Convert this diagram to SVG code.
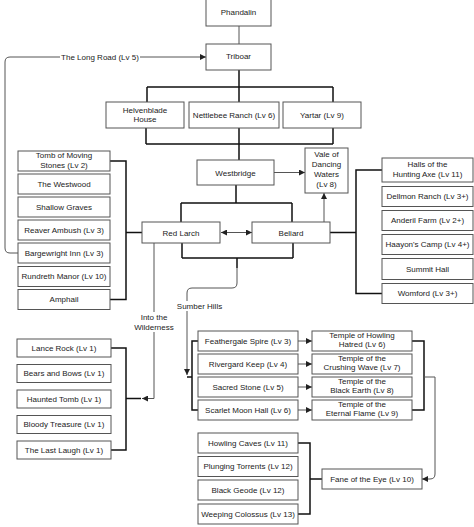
<svg xmlns="http://www.w3.org/2000/svg" width="474" height="527" viewBox="0 0 474 527">
<style>
.n rect{fill:#fff;stroke:#555;stroke-width:1}
.n text,.lbl{font-family:"Liberation Sans",Arial,sans-serif;font-size:8px;fill:#222;text-anchor:middle}
.bus{fill:none;stroke:#111;stroke-width:1.5}
.thin{fill:none;stroke:#555;stroke-width:1}
.arr{marker-end:url(#ah)}
</style>
<defs>
<marker id="ah" markerUnits="userSpaceOnUse" markerWidth="7" markerHeight="6" refX="6" refY="3" orient="auto">
<path d="M0,0 L6,3 L0,6 Z" fill="#222"/>
</marker>
<marker id="as" markerUnits="userSpaceOnUse" markerWidth="7" markerHeight="6" refX="0" refY="3" orient="auto">
<path d="M6,0 L0,3 L6,6 Z" fill="#222"/>
</marker>
</defs>
<rect width="474" height="527" fill="#fff"/>

<g id="connectors">
<line class="thin" x1="239" y1="26" x2="239" y2="44"/>
<path class="bus" d="M239,70 V87 M147,87 H333 M147,87 V102 M239,87 V102 M333,87 V102"/>
<path class="bus" d="M146,128 V144 M333,128 V144 M239,128 V160 M146,144 H333"/>
<path class="bus" d="M236,185 V203 M181,203 H292 M181,203 V222 M292,203 V222"/>
<path class="bus" d="M182,243 V258 M293,243 V258 M182,258 H293 M237,258 V268"/>
<path class="thin arr" d="M237,268 V283 Q237,288 232,288 H192 Q187,288 187,293 V375"/>
<path class="bus" d="M198,341 H192 V410 H198 M187,377 H192"/>
<path class="bus" d="M412,341 H424 V410 H412"/>
<path class="thin arr" d="M424,377 H435 V474 Q435,479 430,479 H422"/>
<path class="bus" d="M110,161 H126 V299.5 H110 M126,232.5 H142"/>
<path class="bus" d="M382,170 H356 V293.5 H382 M330,232.5 H356"/>
<path class="bus" d="M111,348 H126 V450 H111 M126,398.5 H141"/>
<path class="thin arr" d="M154,243 V398.5 H142"/>
<path class="bus" d="M298,443 H310 V514 H298 M310,479 H322"/>
<line class="thin arr" x1="298" y1="341" x2="312" y2="341"/>
<line class="thin arr" x1="298" y1="364" x2="312" y2="364"/>
<line class="thin arr" x1="298" y1="387" x2="312" y2="387"/>
<line class="thin arr" x1="298" y1="410" x2="312" y2="410"/>
<line class="thin arr" x1="274" y1="172.5" x2="305" y2="172.5"/>
<line class="thin arr" x1="324" y1="222" x2="324" y2="193"/>
<line class="thin arr" x1="221" y1="232.5" x2="252" y2="232.5" style="marker-start:url(#as)"/>
<path class="thin arr" d="M18,253 H10 Q5,253 5,248 V62 Q5,57 10,57 H206"/>
<rect x="60" y="52" width="80" height="10" fill="#fff"/>
<text class="lbl" x="100" y="60">The Long Road (Lv 5)</text>
<rect x="176" y="301" width="47" height="10" fill="#fff"/>
<text class="lbl" x="199.5" y="309">Sumber Hills</text>
<rect x="134" y="312" width="40" height="20" fill="#fff"/>
<text class="lbl" x="154" y="320">Into the</text>
<text class="lbl" x="154" y="330">Wilderness</text>
</g>

<g id="phandalin" class="n"><rect x="206" y="-1" width="65" height="27"/><text x="238.5" y="15">Phandalin</text></g>
<g id="triboar" class="n"><rect x="206" y="44" width="65" height="26"/><text x="238.5" y="59">Triboar</text></g>
<g id="helvenblade" class="n"><rect x="106" y="102" width="78" height="26"/><text x="145" y="113">Helvenblade</text><text x="145" y="122">House</text></g>
<g id="nettlebee" class="n"><rect x="189" y="102" width="90" height="26"/><text x="234" y="117.5">Nettlebee Ranch (Lv 6)</text></g>
<g id="yartar" class="n"><rect x="283" y="102" width="78" height="26"/><text x="322" y="117.5">Yartar (Lv 9)</text></g>
<g id="westbridge" class="n"><rect x="197" y="160" width="77" height="25"/><text x="235.5" y="175.5">Westbridge</text></g>
<g id="vale" class="n"><rect x="305" y="148" width="43" height="45"/><text x="326.5" y="157">Vale of</text><text x="326.5" y="167">Dancing</text><text x="326.5" y="177">Waters</text><text x="326.5" y="187">(Lv 8)</text></g>
<g id="redlarch" class="n"><rect x="142" y="222" width="78" height="21"/><text x="181" y="235.5">Red Larch</text></g>
<g id="beliard" class="n"><rect x="252" y="222" width="78" height="21"/><text x="291" y="235.5">Beliard</text></g>

<g id="tomb" class="n"><rect x="18" y="151" width="92" height="20"/><text x="64" y="158">Tomb of Moving</text><text x="64" y="167.5">Stones (Lv 2)</text></g>
<g id="westwood" class="n"><rect x="18" y="174" width="92" height="20"/><text x="64" y="186.5">The Westwood</text></g>
<g id="shallow" class="n"><rect x="18" y="197" width="92" height="20"/><text x="64" y="209.5">Shallow Graves</text></g>
<g id="reaver" class="n"><rect x="18" y="220" width="92" height="20"/><text x="64" y="232.5">Reaver Ambush (Lv 3)</text></g>
<g id="bargewright" class="n"><rect x="18" y="243" width="92" height="20"/><text x="64" y="255.5">Bargewright Inn (Lv 3)</text></g>
<g id="rundreth" class="n"><rect x="18" y="266.5" width="92" height="20"/><text x="64" y="279">Rundreth Manor (Lv 10)</text></g>
<g id="amphail" class="n"><rect x="18" y="289.5" width="92" height="20"/><text x="64" y="302">Amphail</text></g>

<g id="halls" class="n"><rect x="382" y="158" width="91" height="24"/><text x="427.5" y="167">Halls of the</text><text x="427.5" y="177">Hunting Axe (Lv 11)</text></g>
<g id="dellmon" class="n"><rect x="382" y="186.5" width="91" height="20"/><text x="427.5" y="199">Dellmon Ranch (Lv 3+)</text></g>
<g id="anderil" class="n"><rect x="382" y="210.5" width="91" height="20"/><text x="427.5" y="223">Anderil Farm (Lv 2+)</text></g>
<g id="haayon" class="n"><rect x="382" y="234.5" width="91" height="20"/><text x="427.5" y="247">Haayon's Camp (Lv 4+)</text></g>
<g id="summit" class="n"><rect x="382" y="258.5" width="91" height="21"/><text x="427.5" y="271.5">Summit Hall</text></g>
<g id="womford" class="n"><rect x="382" y="283.5" width="91" height="20"/><text x="427.5" y="296">Womford (Lv 3+)</text></g>

<g id="feathergale" class="n"><rect x="198" y="331" width="100" height="20"/><text x="248" y="343.5">Feathergale Spire (Lv 3)</text></g>
<g id="rivergard" class="n"><rect x="198" y="354" width="100" height="20"/><text x="248" y="366.5">Rivergard Keep (Lv 4)</text></g>
<g id="sacred" class="n"><rect x="198" y="377" width="100" height="20"/><text x="248" y="389.5">Sacred Stone (Lv 5)</text></g>
<g id="scarlet" class="n"><rect x="198" y="400" width="100" height="20"/><text x="248" y="412.5">Scarlet Moon Hall (Lv 6)</text></g>

<g id="howling-hatred" class="n"><rect x="312" y="331" width="100" height="20"/><text x="362" y="337.5">Temple of Howling</text><text x="362" y="347">Hatred (Lv 6)</text></g>
<g id="crushing-wave" class="n"><rect x="312" y="354" width="100" height="20"/><text x="362" y="360.5">Temple of the</text><text x="362" y="370">Crushing Wave (Lv 7)</text></g>
<g id="black-earth" class="n"><rect x="312" y="377" width="100" height="20"/><text x="362" y="383.5">Temple of the</text><text x="362" y="393">Black Earth (Lv 8)</text></g>
<g id="eternal-flame" class="n"><rect x="312" y="400" width="100" height="20"/><text x="362" y="406.5">Temple of the</text><text x="362" y="416">Eternal Flame (Lv 9)</text></g>

<g id="lance" class="n"><rect x="17" y="339" width="94" height="18"/><text x="64" y="350.5">Lance Rock (Lv 1)</text></g>
<g id="bears" class="n"><rect x="17" y="364.5" width="94" height="18"/><text x="64" y="376">Bears and Bows (Lv 1)</text></g>
<g id="haunted" class="n"><rect x="17" y="390" width="94" height="18"/><text x="64" y="401.5">Haunted Tomb (Lv 1)</text></g>
<g id="bloody" class="n"><rect x="17" y="415.5" width="94" height="18"/><text x="64" y="427">Bloody Treasure (Lv 1)</text></g>
<g id="lastlaugh" class="n"><rect x="17" y="441" width="94" height="18"/><text x="64" y="452.5">The Last Laugh (Lv 1)</text></g>

<g id="howling-caves" class="n"><rect x="198" y="433" width="100" height="20"/><text x="248" y="445.5">Howling Caves (Lv 11)</text></g>
<g id="plunging" class="n"><rect x="198" y="456.5" width="100" height="20"/><text x="248" y="469">Plunging Torrents (Lv 12)</text></g>
<g id="geode" class="n"><rect x="198" y="480" width="100" height="20"/><text x="248" y="492.5">Black Geode (Lv 12)</text></g>
<g id="colossus" class="n"><rect x="198" y="504" width="100" height="20"/><text x="248" y="516.5">Weeping Colossus (Lv 13)</text></g>
<g id="fane" class="n"><rect x="322" y="469" width="100" height="20"/><text x="372" y="481.5">Fane of the Eye (Lv 10)</text></g>
</svg>
